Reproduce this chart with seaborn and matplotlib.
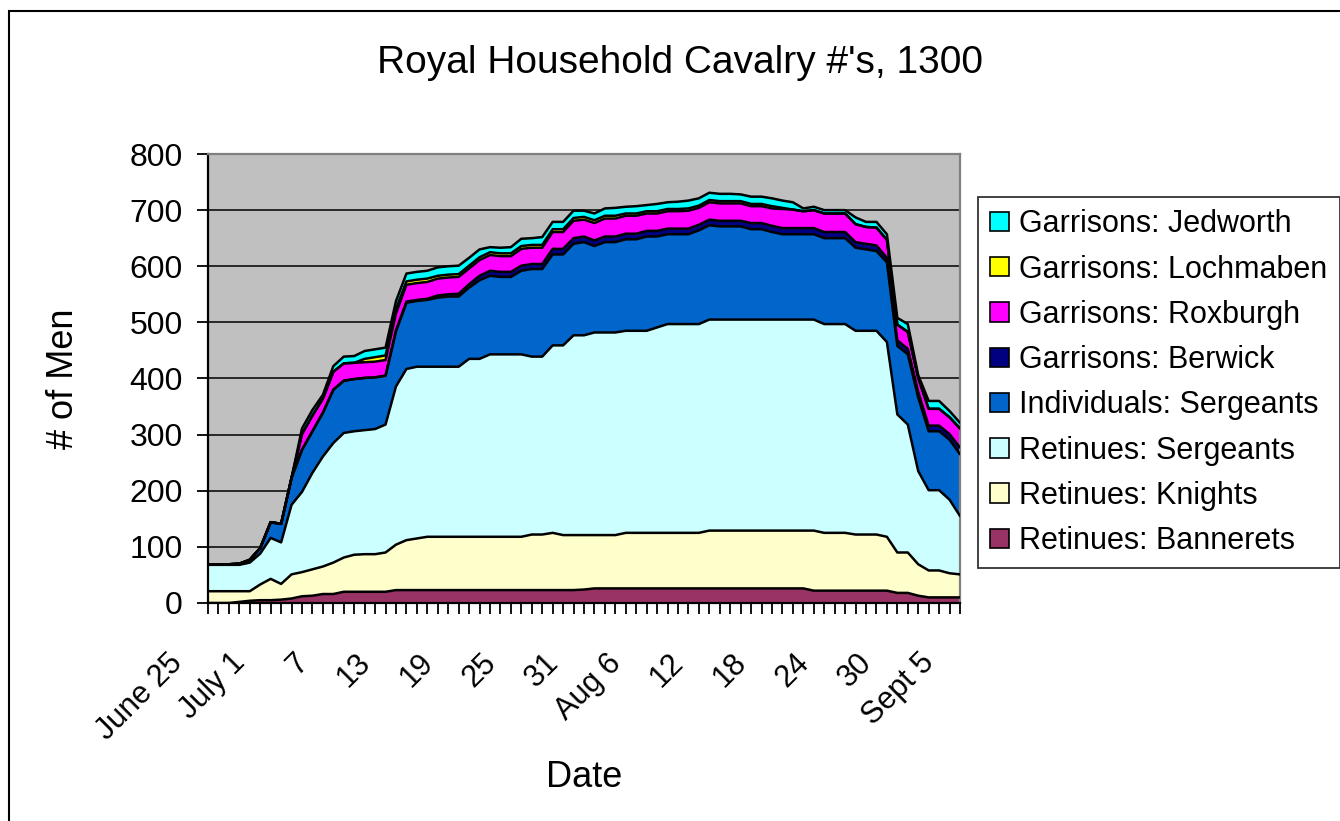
import numpy as np
import pandas as pd
import matplotlib
matplotlib.use("Agg")
import matplotlib.pyplot as plt
import matplotlib.patches as mpatches
from matplotlib.transforms import ScaledTranslation
import seaborn as sns

sns.set_style("white")
plt.rcParams['font.family'] = ['Liberation Sans', 'DejaVu Sans']
plt.rcParams['text.color'] = 'black'
plt.rcParams['axes.labelcolor'] = 'black'
plt.rcParams['xtick.color'] = 'black'
plt.rcParams['ytick.color'] = 'black'

# ---------------- data ----------------
day_index = list(range(73))  # June 25 .. Sept 5, one point per day
tick_labels = ["June 25", "July 1", "7", "13", "19", "25", "31",
               "Aug 6", "12", "18", "24", "30", "Sept 5"]

bannerets = [0, 0, 0, 2, 4, 5, 5, 6, 8, 12, 13, 16, 16, 20, 20, 20, 20, 20, 23, 23,
             23, 23, 23, 23, 23, 23, 23, 23, 23, 23, 23, 23, 23, 23, 23, 23, 24, 26, 26, 26,
             26, 26, 26, 26, 26, 26, 26, 26, 26, 26, 26, 26, 26, 26, 26, 26, 26, 26, 22, 22,
             22, 22, 22, 22, 22, 22, 18, 18, 13, 10, 10, 10, 10]
knights = [21, 21, 21, 19, 17, 28, 38, 28, 43, 43, 47, 49, 56, 61, 66, 67, 67, 70, 81, 89,
           92, 95, 95, 95, 95, 95, 95, 95, 95, 95, 95, 99, 99, 102, 98, 98, 97, 95, 95, 95,
           99, 99, 99, 99, 99, 99, 99, 99, 103, 103, 103, 103, 103, 103, 103, 103, 103, 103, 107, 103,
           103, 103, 100, 100, 100, 96, 72, 72, 56, 48, 48, 43, 41]
ret_sergeants = [47, 47, 47, 47, 51, 55, 73, 74, 124, 143, 172, 196, 213, 222, 220, 221, 223, 228, 282, 305,
                 306, 303, 303, 303, 303, 317, 317, 325, 325, 325, 325, 317, 317, 334, 338, 356, 356, 361, 361, 361,
                 360, 360, 360, 366, 372, 372, 372, 372, 376, 376, 376, 376, 376, 376, 376, 376, 376, 376, 376, 372,
                 372, 372, 363, 363, 363, 347, 246, 228, 166, 143, 143, 131, 104]
ind_sergeants = [1, 1, 1, 2, 5, 10, 28, 33, 48, 75, 74, 78, 95, 93, 93, 93, 92, 87, 98, 118,
                 117, 119, 123, 125, 125, 127, 140, 140, 138, 138, 149, 156, 156, 162, 162, 163, 166, 154, 161, 161,
                 163, 163, 168, 162, 160, 160, 160, 167, 168, 166, 166, 166, 161, 161, 156, 152, 152, 152, 152, 153,
                 153, 153, 148, 145, 142, 142, 122, 125, 131, 105, 105, 107, 110]
berwick = [0, 0, 0, 0, 0, 0, 0, 0, 0, 0, 0, 0, 0, 0, 0, 0, 0, 0, 2, 2,
           2, 2, 4, 4, 5, 6, 8, 9, 9, 9, 9, 9, 9, 10, 10, 10, 10, 10, 10, 10,
           10, 10, 10, 10, 10, 10, 10, 10, 10, 10, 10, 10, 11, 11, 11, 11, 11, 11, 11, 11,
           11, 11, 10, 10, 10, 8, 10, 10, 10, 10, 10, 10, 12]
roxburgh = [0, 0, 0, 0, 0, 0, 0, 0, 0, 28, 28, 25, 32, 31, 29, 28, 28, 28, 30, 30,
            30, 30, 30, 30, 30, 28, 28, 28, 28, 28, 30, 29, 29, 30, 30, 31, 30, 31, 32, 32,
            32, 32, 31, 31, 31, 31, 32, 30, 31, 31, 31, 31, 30, 30, 31, 34, 33, 30, 32, 33,
            33, 33, 32, 30, 32, 32, 28, 30, 25, 30, 30, 30, 34]
lochmaben = [0, 0, 0, 0, 0, 0, 0, 0, 0, 0, 0, 0, 0, 0, 0, 6, 8, 8, 8, 6,
             6, 6, 5, 5, 5, 5, 5, 5, 5, 5, 5, 5, 5, 5, 5, 5, 5, 5, 5, 5,
             4, 4, 4, 4, 4, 4, 4, 4, 4, 4, 4, 4, 4, 4, 4, 2, 0, 0, 0, 0,
             0, 0, 0, 0, 0, 0, 0, 0, 0, 0, 0, 0, 0]
jedworth = [0, 0, 0, 0, 0, 0, 0, 0, 0, 10, 10, 7, 10, 12, 12, 14, 14, 14, 14, 14,
            14, 14, 15, 15, 15, 14, 14, 9, 10, 11, 13, 12, 14, 13, 13, 13, 11, 12, 13, 14,
            12, 13, 11, 13, 12, 13, 14, 13, 13, 13, 13, 12, 13, 13, 14, 13, 13, 5, 6, 6,
            6, 6, 12, 9, 10, 10, 12, 14, 5, 14, 14, 11, 10]

series_names = ["Retinues: Bannerets", "Retinues: Knights", "Retinues: Sergeants",
                "Individuals: Sergeants", "Garrisons: Berwick", "Garrisons: Roxburgh",
                "Garrisons: Lochmaben", "Garrisons: Jedworth"]
series_colors = ["#993366", "#FFFFCC", "#CCFFFF", "#0066CC",
                 "#000080", "#FF00FF", "#FFFF00", "#00FFFF"]
series_values = [bannerets, knights, ret_sergeants, ind_sergeants,
                 berwick, roxburgh, lochmaben, jedworth]

# ---------------- figure ----------------
W, H = 1340, 821
fig = plt.figure(figsize=(W / 100, H / 100), dpi=100)
fig.patch.set_facecolor("white")

ax = fig.add_axes([208 / W, 1 - 603 / H, 752 / W, 449 / H])
ax.set_facecolor("#C0C0C0")

ax.stackplot(day_index, *series_values, colors=series_colors, linewidth=0, zorder=2)

# outlines of each stacked layer drawn with seaborn
cum = np.cumsum(np.array(series_values, dtype=float), axis=0)
long_df = pd.DataFrame({
    "day": np.tile(day_index, len(series_names)),
    "value": cum.ravel(),
    "series": np.repeat(series_names, len(day_index)),
})
sns.lineplot(data=long_df, x="day", y="value", units="series", estimator=None,
             color="black", linewidth=1.8, ax=ax, legend=False, zorder=3,
             sort=False)

# axes styling
ax.set_xlim(0, 72)
ax.set_ylim(0, 800)
ax.set_yticks(range(0, 801, 100))
ax.yaxis.grid(True, color="black", linewidth=1.1)
ax.xaxis.grid(False)
ax.set_axisbelow(True)

for side in ("left", "bottom"):
    ax.spines[side].set_color("black")
    ax.spines[side].set_linewidth(1.6)
for side in ("top", "right"):
    ax.spines[side].set_color("#808080")
    ax.spines[side].set_linewidth(1.6)

full_labels = [""] * len(day_index)
for k, lab in enumerate(tick_labels):
    full_labels[6 * k] = lab
ax.set_xticks(day_index)
ax.set_xticklabels(full_labels, rotation=45, ha="right", va="center",
                   rotation_mode="anchor")
ax.tick_params(axis="x", direction="out", length=8, width=1.3, pad=32,
               labelsize=22, colors="black", bottom=True)
ax.tick_params(axis="y", direction="out", length=8, width=1.3, pad=10,
               labelsize=23, colors="black", left=True)
shift = ScaledTranslation(-0.30, 0, fig.dpi_scale_trans)
for lab in ax.get_xticklabels():
    lab.set_transform(lab.get_transform() + shift)

ax.set_xlabel("Date", fontsize=26)
ax.xaxis.set_label_coords(0.5, (603 - 760) / 449)
ax.set_ylabel("# of Men", fontsize=26)
ax.yaxis.set_label_coords((81 - 208) / 752, 0.5)

fig.text(680 / W, 1 - 63 / H, "Royal Household Cavalry #'s, 1300",
         ha="center", va="center", fontsize=28, color="black")

# legend (top series first)
handles = [mpatches.Patch(facecolor=c, edgecolor="black", linewidth=1.2)
           for c in series_colors][::-1]
leg = fig.legend(handles, series_names[::-1], loc="upper left",
                 bbox_to_anchor=(978 / W, 1 - 197 / H), fontsize=22,
                 frameon=True, fancybox=False, shadow=False, edgecolor="black",
                 handlelength=0.6, handleheight=0.6, handletextpad=0.35,
                 labelspacing=0.5, borderpad=0.4, borderaxespad=0)
leg.get_frame().set_linewidth(1.3)
for t in leg.get_texts():
    t.set_color("black")

# outer chart-area border
fig.add_artist(mpatches.Rectangle((9 / W, -0.05), 1.1, 1 - 11 / H + 0.05,
                                  transform=fig.transFigure, fill=False,
                                  edgecolor="black", linewidth=1.5, clip_on=False))

fig.savefig("out.png", dpi=100)
